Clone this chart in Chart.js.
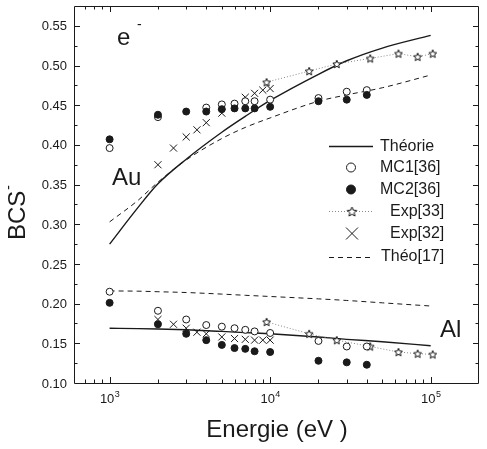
<!DOCTYPE html>
<html>
<head>
<meta charset="utf-8">
<script src="https://cdn.jsdelivr.net/npm/chart.js@4.4.0/dist/chart.umd.min.js"></script>
<style>
  html, body { margin: 0; padding: 0; background: #fff; }
  canvas { display: block; }
</style>
</head>
<body>
<canvas id="chart" width="487" height="449"></canvas>
<script>
// Energies (eV)
const mcEnergy = [1000, 2000, 3000, 4000, 5000, 6000, 7000, 8000, 10000, 20000, 30000, 40000];
const exp32Energy = [2000, 2500, 3000, 3500, 4000, 5000, 6000, 7000, 8000, 9000, 10000];
const exp33Energy = [9500, 17500, 26000, 42000, 63000, 83000, 103000];
const theoryEnergy = [1000, 1500, 2000, 3000, 5000, 7000, 10000, 20000, 30000, 50000, 100000];

// Au
const auMC1 = [0.396, 0.435, null, 0.447, 0.451, 0.452, 0.455, 0.455, 0.457, 0.459, 0.467, 0.469];
const auMC2 = [0.407, 0.438, 0.442, 0.442, 0.445, 0.446, 0.446, 0.446, 0.448, 0.455, 0.457, 0.463];
const auExp32 = [0.375, 0.396, 0.410, 0.419, 0.428, 0.440, null, 0.460, 0.465, 0.469, 0.471];
const auExp33 = [0.479, 0.493, 0.502, 0.509, 0.515, 0.511, 0.515];
const auTheory = [0.275, 0.321, 0.351, 0.382, 0.416, 0.436, 0.456, 0.489, 0.506, 0.522, 0.538];
const auTheo17 = [0.303, 0.330, 0.353, 0.381, 0.408, 0.422, 0.434, 0.455, 0.463, 0.472, 0.488];

// Al
const alMC1 = [0.215, 0.191, 0.180, 0.173, 0.171, 0.169, 0.167, 0.165, 0.163, 0.153, 0.146, 0.146];
const alMC2 = [0.201, 0.174, 0.162, 0.154, 0.148, 0.144, 0.143, 0.140, 0.139, 0.128, 0.126, 0.123];
const alExp32 = [0.180, 0.174, 0.169, 0.164, 0.162, 0.158, 0.156, 0.155, 0.154, 0.154, 0.154];
const alExp33 = [0.177, 0.162, 0.154, 0.146, 0.139, 0.137, 0.136];
const alTheory = [0.169, 0.1685, 0.168, 0.167, 0.165, 0.1635, 0.162, 0.158, 0.155, 0.152, 0.147];
const alTheo17 = [0.216, 0.2157, 0.215, 0.214, 0.212, 0.2105, 0.209, 0.206, 0.204, 0.201, 0.197];

// Axis ticks
const yTicks = [0.10, 0.15, 0.20, 0.25, 0.30, 0.35, 0.40, 0.45, 0.50, 0.55];
const yTickLabels = ['0.10', '0.15', '0.20', '0.25', '0.30', '0.35', '0.40', '0.45', '0.50', '0.55'];
const xTicks = [1000, 10000, 100000];
const xTickExp = ['3', '4', '5'];

const FONT = "'Liberation Sans', Arial, sans-serif";
const INK = '#1a1a1a';

function pts(xs, ys) {
    return xs.map((x, i) => ({ x: x, y: ys[i] }));
}

// open 5-point star used as point style
function makeStar(r) {
    const s = Math.ceil(r * 2 + 3);
    const c = document.createElement('canvas');
    c.width = s; c.height = s;
    const g = c.getContext('2d');
    g.translate(s / 2, s / 2 + r * 0.1);
    g.beginPath();
    for (let i = 0; i < 10; i++) {
        const rad = i % 2 ? r * 0.45 : r;
        const ang = -Math.PI / 2 + i * Math.PI / 5;
        const px = Math.cos(ang) * rad, py = Math.sin(ang) * rad;
        if (i === 0) g.moveTo(px, py); else g.lineTo(px, py);
    }
    g.closePath();
    g.fillStyle = '#fff';
    g.fill();
    g.strokeStyle = '#111';
    g.lineWidth = 1;
    g.stroke();
    return c;
}
const starImg = makeStar(4.2);
const starLegend = makeStar(5);

function curve(data, dash) {
    return {
        data: data,
        borderColor: INK,
        borderWidth: dash ? 1 : 1.4,
        borderDash: dash ? [5, 4] : [],
        pointRadius: 0,
        cubicInterpolationMode: 'monotone',
        fill: false,
        order: 10
    };
}

function markers(data, style, fillColor, radius, order) {
    return {
        data: data,
        showLine: false,
        pointStyle: style,
        pointRadius: radius,
        pointBackgroundColor: fillColor,
        pointBorderColor: INK,
        pointBorderWidth: 1,
        order: order
    };
}

function expLine(data) {
    return {
        data: data,
        borderColor: '#888',
        borderWidth: 1,
        borderDash: [1, 2],
        pointStyle: starImg,
        pointRadius: 4,
        tension: 0,
        fill: false,
        order: 5
    };
}

// frame and inward ticks on all four sides
const framePlugin = {
    id: 'frame',
    afterDatasetsDraw(chart) {
        const { ctx, chartArea: a, scales: { x, y } } = chart;
        ctx.save();
        ctx.strokeStyle = INK;
        ctx.lineWidth = 1;
        ctx.beginPath();
        ctx.rect(a.left + 0.5, a.top + 0.5, a.right - a.left - 1, a.bottom - a.top);
        // x: decades and minor ticks
        for (let d = 100; d <= 100000; d *= 10) {
            for (let m = 1; m <= 9; m++) {
                const v = m * d;
                if (v <= x.min || v >= x.max) continue;
                const px = Math.round(x.getPixelForValue(v)) + 0.5;
                const len = m === 1 ? 6 : 3.5;
                ctx.moveTo(px, a.bottom);
                ctx.lineTo(px, a.bottom - len);
                ctx.moveTo(px, a.top);
                ctx.lineTo(px, a.top + len);
            }
        }
        // y: every 0.025
        for (let i = 1; i < 19; i++) {
            const v = 0.10 + i * 0.025;
            if (v >= y.max) continue;
            const py = Math.round(y.getPixelForValue(v)) + 0.5;
            const len = i % 2 === 0 ? 6 : 3.5;
            ctx.moveTo(a.left, py);
            ctx.lineTo(a.left + len, py);
            ctx.moveTo(a.right, py);
            ctx.lineTo(a.right - len, py);
        }
        ctx.stroke();

        // tick labels
        ctx.fillStyle = INK;
        ctx.font = '13px ' + FONT;
        ctx.textAlign = 'right';
        ctx.textBaseline = 'middle';
        yTicks.forEach((v, i) => {
            ctx.fillText(yTickLabels[i], a.left - 7, y.getPixelForValue(v) + 1);
        });
        ctx.textBaseline = 'alphabetic';
        ctx.textAlign = 'left';
        xTicks.forEach((v, i) => {
            const cx = x.getPixelForValue(v);
            ctx.font = '13px ' + FONT;
            const w1 = ctx.measureText('10').width;
            ctx.font = '9px ' + FONT;
            const w2 = ctx.measureText(xTickExp[i]).width;
            const left = cx - (w1 + w2) / 2;
            ctx.font = '13px ' + FONT;
            ctx.fillText('10', left, a.bottom + 20);
            ctx.font = '9px ' + FONT;
            ctx.fillText(xTickExp[i], left + w1 + 0.5, a.bottom + 14);
        });
        ctx.restore();
    }
};

// annotations, axis titles and legend
const textPlugin = {
    id: 'texts',
    afterDraw(chart) {
        const { ctx } = chart;
        ctx.save();
        ctx.fillStyle = INK;
        ctx.textBaseline = 'alphabetic';
        ctx.textAlign = 'left';

        ctx.font = '24px ' + FONT;
        ctx.fillText('e', 117, 45);
        ctx.fillText('Au', 112, 185);
        ctx.fillText('Al', 440, 337);
        ctx.font = '14px ' + FONT;
        ctx.fillText('-', 137, 29);

        // x title
        ctx.font = '24px ' + FONT;
        ctx.textAlign = 'center';
        ctx.fillText('Energie (eV )', 277, 437);

        // y title, rotated
        ctx.save();
        ctx.translate(25, 240);
        ctx.rotate(-Math.PI / 2);
        ctx.textAlign = 'left';
        ctx.font = '24px ' + FONT;
        ctx.fillText('BCS', 0, 0);
        const w = ctx.measureText('BCS').width;
        ctx.font = '14px ' + FONT;
        ctx.fillText('-', w + 1, -12);
        ctx.restore();

        // legend
        ctx.font = '16px ' + FONT;
        ctx.textAlign = 'left';
        ctx.textBaseline = 'middle';
        ctx.strokeStyle = INK;

        // Théorie
        ctx.lineWidth = 1.4;
        ctx.beginPath();
        ctx.moveTo(329, 146.5); ctx.lineTo(373, 146.5);
        ctx.stroke();
        ctx.fillText('Théorie', 380, 147);

        // MC1
        ctx.lineWidth = 1;
        ctx.beginPath();
        ctx.arc(351, 167.5, 4.5, 0, Math.PI * 2);
        ctx.fillStyle = '#fff';
        ctx.fill();
        ctx.stroke();
        ctx.fillStyle = INK;
        ctx.fillText('MC1[36]', 380, 168);

        // MC2
        ctx.beginPath();
        ctx.arc(351, 189.5, 4.5, 0, Math.PI * 2);
        ctx.fill();
        ctx.stroke();
        ctx.fillText('MC2[36]', 380, 190);

        // Exp[33]
        ctx.save();
        ctx.strokeStyle = '#888';
        ctx.setLineDash([1, 2]);
        ctx.beginPath();
        ctx.moveTo(329, 211.5); ctx.lineTo(374, 211.5);
        ctx.stroke();
        ctx.restore();
        ctx.drawImage(starLegend, 352 - starLegend.width / 2, 211.5 - starLegend.height / 2);
        ctx.fillText('Exp[33]', 390, 212);

        // Exp[32]
        ctx.beginPath();
        ctx.moveTo(346, 227.5); ctx.lineTo(358, 239.5);
        ctx.moveTo(358, 227.5); ctx.lineTo(346, 239.5);
        ctx.stroke();
        ctx.fillText('Exp[32]', 390, 234);

        // Théo[17]
        ctx.save();
        ctx.setLineDash([5, 4]);
        ctx.beginPath();
        ctx.moveTo(329, 257.5); ctx.lineTo(373, 257.5);
        ctx.stroke();
        ctx.restore();
        ctx.fillText('Théo[17]', 381, 257);

        ctx.restore();
    }
};

new Chart(document.getElementById('chart').getContext('2d'), {
    type: 'line',
    data: {
        datasets: [
            curve(pts(theoryEnergy, auTheory), false),
            curve(pts(theoryEnergy, auTheo17), true),
            curve(pts(theoryEnergy, alTheory), false),
            curve(pts(theoryEnergy, alTheo17), true),
            expLine(pts(exp33Energy, auExp33)),
            expLine(pts(exp33Energy, alExp33)),
            markers(pts(exp32Energy, auExp32), 'crossRot', INK, 5, 4),
            markers(pts(exp32Energy, alExp32), 'crossRot', INK, 5, 4),
            markers(pts(mcEnergy, auMC1), 'circle', '#fff', 3.5, 3),
            markers(pts(mcEnergy, alMC1), 'circle', '#fff', 3.5, 3),
            markers(pts(mcEnergy, auMC2), 'circle', INK, 3.5, 2),
            markers(pts(mcEnergy, alMC2), 'circle', INK, 3.5, 2)
        ]
    },
    options: {
        responsive: false,
        devicePixelRatio: 1,
        animation: false,
        layout: { padding: { left: 74, right: 8, top: 5, bottom: 66 } },
        scales: {
            x: { type: 'logarithmic', min: 600, max: 200000, display: false },
            y: { type: 'linear', min: 0.10, max: 0.575, display: false }
        },
        plugins: {
            legend: { display: false },
            tooltip: { enabled: false }
        }
    },
    plugins: [framePlugin, textPlugin]
});
</script>
</body>
</html>
